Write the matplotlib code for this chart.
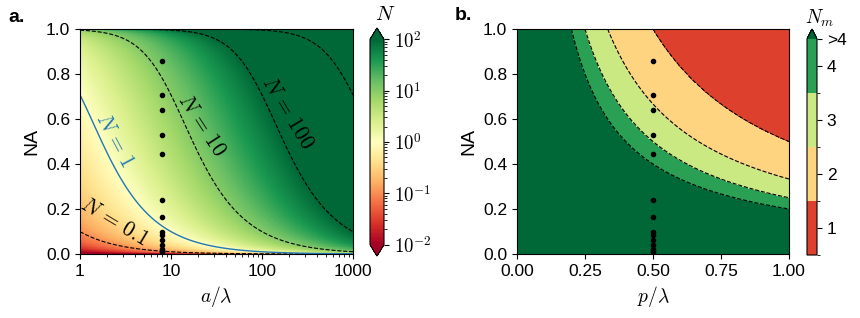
import numpy as np
import matplotlib
matplotlib.use("Agg")
import matplotlib.pyplot as plt
from matplotlib.colors import LogNorm, ListedColormap, BoundaryNorm
import matplotlib.cm as cm

plt.rcParams['font.family'] = ['Liberation Sans', 'DejaVu Sans']
plt.rcParams['mathtext.fontset'] = 'cm'

# ---- data ----
a_sample = 8.0
p_sample = 0.5
na_samples = [0.858, 0.707, 0.64, 0.529, 0.446, 0.238, 0.163, 0.10, 0.086,
              0.062, 0.042, 0.023, 0.014, 0.007]
N_levels_dashed = [0.1, 10, 100, 1000]
N_level_solid = [1]
x_ticks_a = [1, 10, 100, 1000]
x_ticklabels_a = ['1', '10', '100', '1000']
cb_ticks_N = [1e-2, 1e-1, 1e0, 1e1, 1e2]
cb_ticklabels_N = [r'$10^{-2}$', r'$10^{-1}$', r'$10^{0}$', r'$10^{1}$', r'$10^{2}$']
# Nm boundaries in p*NA/lambda
Nm_bounds = [1/5, 1/4, 1/3, 1/2]
Nm_values = [1, 2, 3, 4]
Nm_labels = ['1', '2', '3', '4', '>4']

fig = plt.figure(figsize=(8.6, 3.18), dpi=100)
W, H = 860, 318

def ax_rect(x0, x1, y0, y1):
    return [x0 / W, 1 - y1 / H, (x1 - x0) / W, (y1 - y0) / H]

# ---------- panel a ----------
ax1 = fig.add_axes(ax_rect(80, 353, 29, 254))
a = np.logspace(0, 3, 500)
na = np.linspace(0, 0.9999, 600)
A, NA = np.meshgrid(a, na)
Nfield = A * NA / np.sqrt(1 - NA ** 2)
Nfield = np.clip(Nfield, 1e-4, 1e5)
norm = LogNorm(1e-2, 1e2)
cmap = plt.get_cmap('RdYlGn')
pm = ax1.pcolormesh(A, NA, Nfield, norm=norm, cmap=cmap, shading='auto', rasterized=True)
ax1.contour(A, NA, Nfield, levels=N_levels_dashed, colors='black',
            linestyles='--', linewidths=0.8)
ax1.contour(A, NA, Nfield, levels=N_level_solid, colors='#1f77b4',
            linestyles='-', linewidths=1.0)
ax1.plot([a_sample] * len(na_samples), na_samples, 'o', color='black', ms=3)
ax1.set_xscale('log')
ax1.set_xlim(1, 1000)
ax1.set_ylim(0, 1)
ax1.set_xticks(x_ticks_a)
ax1.set_xticklabels(x_ticklabels_a)
ax1.set_yticks([0, 0.2, 0.4, 0.6, 0.8, 1.0])
ax1.tick_params(labelsize=12.5)
ax1.set_xlabel(r'$a/\lambda$', fontsize=14)
ax1.set_ylabel('NA', fontsize=14)

lbl = dict(fontsize=15.5, ha='center', va='center')
ax1.text(2.37, 0.143, r'$N\,=\,0.1$', rotation=-31, color='black', **lbl)
ax1.text(2.42, 0.503, r'$N\,=\,1$', rotation=-62, color='#1f77b4', **lbl)
ax1.text(21.4, 0.573, r'$N\,=\,10$', rotation=-57, color='black', **lbl)
ax1.text(188, 0.627, r'$N\,=\,100$', rotation=-59, color='black', **lbl)

cax1 = fig.add_axes(ax_rect(370, 384, 28, 256))
cb1 = fig.colorbar(pm, cax=cax1, extend='both', extendfrac=0.055)
cb1.set_ticks(cb_ticks_N)
cb1.set_ticklabels(cb_ticklabels_N)
cb1.ax.tick_params(labelsize=13.5)
cb1.outline.set_linewidth(0.8)
fig.text(385 / W, 1 - 14 / H, r'$N$', fontsize=15, ha='center', va='center')

# ---------- panel b ----------
ax2 = fig.add_axes(ax_rect(517, 789, 29, 254))
p = np.linspace(0.0005, 1, 600)
na2 = np.linspace(0.0005, 1, 600)
P, NA2 = np.meshgrid(p, na2)
prod = P * NA2
pos = [0.125, 0.375, 0.625, 0.875]
band_colors = [cmap(v) for v in pos]
over_color = cmap(1.0)
# regions from low product to high: >4, 4, 3, 2, 1
fill_levels = [0] + Nm_bounds + [2]
fill_colors = [over_color, band_colors[3], band_colors[2], band_colors[1], band_colors[0]]
ax2.contourf(P, NA2, prod, levels=fill_levels, colors=fill_colors)
ax2.contour(P, NA2, prod, levels=Nm_bounds, colors='black', linestyles='--', linewidths=0.8)
ax2.plot([p_sample] * len(na_samples), na_samples, 'o', color='black', ms=3)
ax2.set_xlim(0, 1)
ax2.set_ylim(0, 1)
ax2.set_xticks([0, 0.25, 0.5, 0.75, 1.0])
ax2.set_yticks([0, 0.2, 0.4, 0.6, 0.8, 1.0])
ax2.tick_params(labelsize=12.5)
ax2.set_xlabel(r'$p/\lambda$', fontsize=14)
ax2.set_ylabel('NA', fontsize=14)

cax2 = fig.add_axes(ax_rect(807, 817, 29, 255))
dcmap = ListedColormap(band_colors)
dcmap.set_over(over_color)
dnorm = BoundaryNorm([0.5, 1.5, 2.5, 3.5, 4.5], dcmap.N)
sm = cm.ScalarMappable(norm=dnorm, cmap=dcmap)
cb2 = fig.colorbar(sm, cax=cax2, extend='max', extendfrac=0.046)
cb2.set_ticks(Nm_values + [4.5])
cb2.set_ticklabels(Nm_labels)
cb2.ax.tick_params(labelsize=12.5)
cb2.outline.set_linewidth(0.8)
fig.text(820 / W, 1 - 18 / H, r'$N_m$', fontsize=14, ha='center', va='center')

fig.text(8 / W, 1 - 17 / H, 'a.', fontsize=14, fontweight='bold', ha='left', va='center')
fig.text(455 / W, 1 - 15 / H, 'b.', fontsize=14, fontweight='bold', ha='left', va='center')

fig.savefig('out.png', dpi=100)
